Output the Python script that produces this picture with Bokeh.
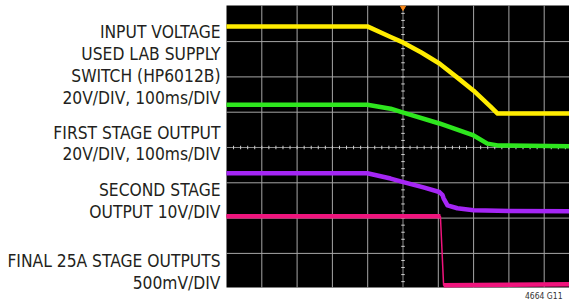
from bokeh.plotting import figure
from bokeh.models import Range1d
from bokeh.core.properties import value
from bokeh.embed import file_html
from bokeh.resources import INLINE

# ---- data (scope divisions: time 0..10 div, volts in div from centre line) ----
yellow_t = [0, 3.99, 4.65, 5.01, 5.52, 6.03, 6.54, 7.00, 7.48, 7.68, 9.94]
yellow_v = [3.43, 3.43, 3.13, 2.97, 2.69, 2.38, 1.98, 1.61, 1.16, 0.96, 0.96]

green_t = [0, 3.99, 4.65, 5.01, 6.03, 7.00, 7.39, 7.68, 9.94]
green_v = [1.21, 1.21, 1.10, 0.99, 0.68, 0.34, 0.11, 0.06, 0.03]

purple_t = [0, 3.99, 4.65, 5.01, 5.58, 6.03, 6.12, 6.15, 6.26, 6.54, 7.00, 8.02, 9.94]
purple_v = [-0.73, -0.73, -0.88, -0.98, -1.13, -1.26, -1.35, -1.44, -1.64, -1.72, -1.78, -1.80, -1.81]

pink_t = [0, 6.06, 6.15, 9.94]
pink_v = [-1.95, -1.95, -3.90, -3.87]

label_lines = ["INPUT VOLTAGE", "USED LAB SUPPLY", "SWITCH (HP6012B)", "20V/DIV, 100ms/DIV",
               "FIRST STAGE OUTPUT", "20V/DIV, 100ms/DIV",
               "SECOND STAGE", "OUTPUT 10V/DIV",
               "FINAL 25A STAGE OUTPUTS", "500mV/DIV"]
figure_code = ["4664 G11"]

# ---- layout (positions in division units; 1 div ~ 35.3 px) ----
W, H = 569, 299
PX = 35.3             # pixels per division
X0, Y0 = 226, 147     # pixel position of scope left edge / centre line
def dx(px): return (px - X0) / PX
def dy(py): return (Y0 - py) / PX

scope_left, scope_right = 0.0, dx(W)
scope_top, scope_bottom = dy(5), dy(287)
label_baselines = [dy(v) for v in [31, 53, 75, 97, 132, 153, 189, 211, 260, 282]]
label_x = dx(220)

FONT = "DejaVu Sans Condensed"

p = figure(width=W, height=H, output_backend="svg", toolbar_location=None,
           x_axis_location=None, y_axis_location=None,
           min_border=0, min_border_left=0, min_border_right=0, min_border_top=0, min_border_bottom=0,
           x_range=Range1d(dx(0), dx(W)), y_range=Range1d(dy(H), dy(0)))
p.background_fill_color = "white"
p.border_fill_color = "white"
p.outline_line_color = None
p.grid.visible = False

# scope screen
p.quad(left=[scope_left], right=[scope_right], bottom=[scope_bottom], top=[scope_top],
       fill_color="black", line_color=None)

grid_color = "#a6a6a6"
gx = [1, 2, 3, 4, 6, 7, 8, 9]
p.segment(x0=gx, y0=[scope_bottom] * len(gx), x1=gx, y1=[scope_top] * len(gx),
          line_color=grid_color, line_width=1)
gy = [-3, -2, -1, 1, 2, 3]
p.segment(x0=[scope_left] * len(gy), y0=gy, x1=[scope_right] * len(gy), y1=gy,
          line_color=grid_color, line_width=1)

# centre graticule lines with minor ticks
p.segment(x0=[scope_left], y0=[0], x1=[scope_right], y1=[0], line_color="#8a8a8a", line_width=1)
p.segment(x0=[5], y0=[scope_bottom], x1=[5], y1=[scope_top], line_color="#8a8a8a", line_width=1)
hx = [k * 0.2 for k in range(1, 49)]
p.segment(x0=hx, y0=[-0.05] * len(hx), x1=hx, y1=[0.05] * len(hx), line_color="#d0d0d0", line_width=1)
vy = [-4 + k * 0.2 for k in range(1, 40)]
p.segment(x0=[4.95] * len(vy), y0=vy, x1=[5.05] * len(vy), y1=vy, line_color="#d0d0d0", line_width=1)

# trigger marker
p.scatter(x=[5], y=[scope_top - 0.06], marker="inverted_triangle", size=5, color="#ff8c1a")

# traces
p.line(yellow_t, yellow_v, line_color="#ffec00", line_width=4.5, line_join="round")
p.line(green_t, green_v, line_color="#2ee61e", line_width=4.5, line_join="round")
p.line(purple_t, purple_v, line_color="#a526f5", line_width=4.5, line_join="round")
p.line(pink_t, pink_v, line_color="#f0147d", line_width=1.5)
p.line(pink_t[:2], pink_v[:2], line_color="#f0147d", line_width=4.5)
p.line(pink_t[2:], pink_v[2:], line_color="#f0147d", line_width=4.5)

p.text(x=[label_x] * len(label_lines), y=label_baselines, text=label_lines,
       text_align="right", text_baseline="alphabetic",
       text_font=value(FONT), text_font_size="17.3px", text_color="#231f20")

p.text(x=[dx(562)], y=[dy(295.5)], text=figure_code, text_align="right", text_baseline="alphabetic",
       text_font=value(FONT), text_font_size="8.5px", text_color="#333333")

open("out.html", "w").write(file_html(p, INLINE))
